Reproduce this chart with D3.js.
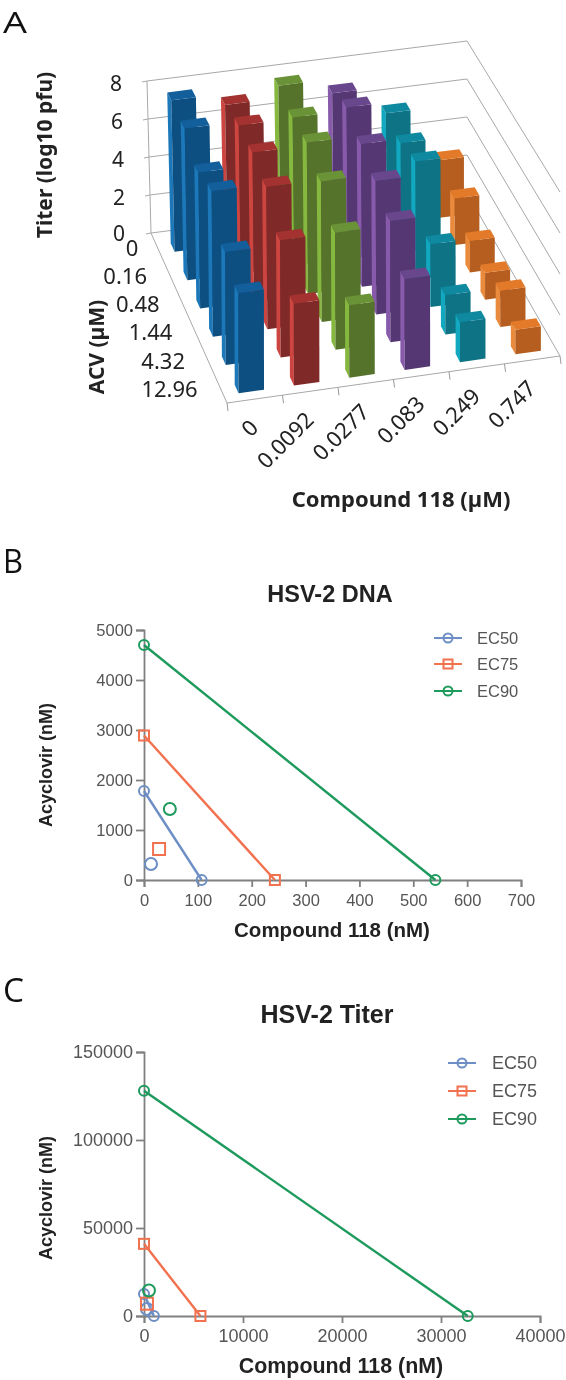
<!DOCTYPE html>
<html>
<head>
<meta charset="utf-8">
<script src="https://cdn.jsdelivr.net/npm/d3@7"></script>
<style>
  html, body { margin: 0; padding: 0; background: #fff; }
  svg { display: block; filter: blur(0.6px); }
</style>
</head>
<body>
<div id="chart"></div>
<script>
var svgWidth = 566;
var svgHeight = 1380;

// panel A
var compoundDoses = ["0", "0.0092", "0.0277", "0.083", "0.249", "0.747"];
var acvDoses = ["0", "0.16", "0.48", "1.44", "4.32", "12.96"];
var titerTicks = [0, 2, 4, 6, 8];
var titerBlue = [7.9, 7.8, 6.9, 7.3, 5.6, 4.9];
var titerRed = [7.3, 7.6, 7.55, 7.15, 5.8, 4.0];
var titerGreen = [7.95, 7.65, 7.7, 7.05, 5.8, 3.55];
var titerPurple = [7.2, 7.8, 7.25, 6.7, 6.0, 4.45];
var titerTeal = [5.8, 5.6, 6.0, 3.15, 1.95, 1.95];
var titerOrange = [3.0, 2.4, 1.6, 1.35, 1.8, 1.2];
var titerSeries = [titerBlue, titerRed, titerGreen, titerPurple, titerTeal, titerOrange];
var barColors = [
  { front: "#0e4f82", top: "#125f9c", left: "#1c78b8" },
  { front: "#7f2a29", top: "#a33230", left: "#cc4540" },
  { front: "#55732b", top: "#6a9236", left: "#86b840" },
  { front: "#553873", top: "#69478c", left: "#875aab" },
  { front: "#0d7385", top: "#0f899f", left: "#12a8c0" },
  { front: "#b55e20", top: "#e37a29", left: "#ea8a3c" }
];

// panel B
var dnaEC50Line = [[0, 1780], [107, 0]];
var dnaEC75Line = [[0, 2890], [243, 0]];
var dnaEC90Line = [[0, 4700], [541, 0]];
var dnaEC50Point = [13, 320];
var dnaEC75Point = [28, 620];
var dnaEC90Point = [48, 1420];
var dnaXTicks = [0, 100, 200, 300, 400, 500, 600, 700];
var dnaYTicks = [0, 1000, 2000, 3000, 4000, 5000];

// panel C
var titerEC50Line = [[0, 12500], [1000, 0]];
var titerEC75Line = [[0, 41000], [5700, 0]];
var titerEC90Line = [[0, 128000], [32700, 0]];
var titerEC50Point = [300, 4000];
var titerEC75Point = [300, 7000];
var titerEC90Point = [500, 14500];
var titerXTicks = [0, 10000, 20000, 30000, 40000];
var titerYTicks = [0, 50000, 100000, 150000];

var levels = ["EC50", "EC75", "EC90"];
var levelColors = ["#6d8fc6", "#f2714f", "#1d9a5c"];
var levelShapes = ["circle", "square", "circle"];

var svg = d3.select("#chart")
  .append("svg")
  .attr("width", svgWidth)
  .attr("height", svgHeight);

function letter(txt, x, y, size, len) {
  svg.append("text")
    .attr("x", x).attr("y", y)
    .attr("font-family", "'Open Sans'")
    .attr("font-size", size)
    .attr("fill", "#111")
    .attr("textLength", len)
    .attr("lengthAdjust", "spacingAndGlyphs")
    .text(txt);
}
letter("A", 3, 32.5, 30, 24);
letter("B", 3, 573, 33, 20);
letter("C", 3, 1002, 33, 21);

// ---- panel A: hand made 3D bars ----
var uScale = d3.scaleLinear().domain([0, 6]).range([0, 1]);
var vScale = d3.scaleLinear().domain([0, 6]).range([0, 1]);

// floor corners as seen in the picture
var backLeft = [151, 233], backRight = [467, 193];
var frontLeft = [227, 403], frontRight = [560, 356];

function project(u, v, z) {
  var bx = backLeft[0] + (backRight[0] - backLeft[0]) * u;
  var by = backLeft[1] + (backRight[1] - backLeft[1]) * u;
  var fx = frontLeft[0] + (frontRight[0] - frontLeft[0]) * u;
  var fy = frontLeft[1] + (frontRight[1] - frontLeft[1]) * u;
  var k = 19 + 1.5 * v;
  return [bx + (fx - bx) * v - z * 0.5 * (1 - u) * (1 - v), by + (fy - by) * v - z * k];
}

var pts = function(list) { return list.map(function(p) { return p.join(","); }).join(" "); };
var a = svg.append("g");

function wallLine(list) {
  a.append("polyline")
    .attr("points", pts(list))
    .attr("fill", "none")
    .attr("stroke", "#a8a8a8")
    .attr("stroke-width", 1);
}

titerTicks.forEach(function(z) {
  wallLine([project(0, 0, z), project(1, 0, z), project(1, 1, z)]);
  var p = project(0, 0, z);
  a.append("line")
    .attr("x1", p[0] - 5).attr("y1", p[1] + 1)
    .attr("x2", p[0]).attr("y2", p[1])
    .attr("stroke", "#a8a8a8");
  a.append("text")
    .attr("x", p[0] - 25 - (z === 0 ? 1 : 0)).attr("y", p[1] + 10 - (z === 0 ? 2 : 0))
    .attr("text-anchor", "end")
    .attr("font-family", "'Noto Sans'")
    .attr("font-size", 21)
    .attr("fill", "#222")
    .text(z);
});
wallLine([project(0, 0, 8), project(0, 0, 0), project(0, 1, 0), project(1, 1, 0)]);

d3.range(7).forEach(function(i) {
  var p = project(uScale(i), 1, 0);
  a.append("line")
    .attr("x1", p[0]).attr("y1", p[1])
    .attr("x2", p[0] + 1).attr("y2", p[1] + 8)
    .attr("stroke", "#999");
});

// painter's order: back row first, right column first
var barFrac = 0.46;
var barDepth = 0.05;
d3.range(6).forEach(function(row) {
  d3.range(5, -1, -1).forEach(function(col) {
    var value = titerSeries[col][row];
    var c = barColors[col];
    var u0 = uScale(col + 0.5 - barFrac / 2), u1 = uScale(col + 0.5 + barFrac / 2);
    var v1 = vScale(row + 0.5 + barFrac / 2), v0 = v1 - barDepth;
    var g = a.append("g");
    g.append("polygon")
      .attr("points", pts([project(u0, v0, 0), project(u0, v1, 0), project(u0, v1, value), project(u0, v0, value)]))
      .attr("fill", c.left);
    g.append("polygon")
      .attr("points", pts([project(u0, v1, 0), project(u1, v1, 0), project(u1, v1, value), project(u0, v1, value)]))
      .attr("fill", c.front);
    g.append("polygon")
      .attr("points", pts([project(u0, v0, value), project(u1, v0, value), project(u1, v1, value), project(u0, v1, value)]))
      .attr("fill", c.top);
  });
});

acvDoses.forEach(function(d, i) {
  var p = project(0, vScale(i + 0.5), 0);
  a.append("text")
    .attr("x", p[0] - 23 + (i === 0 ? 4 : 0)).attr("y", p[1] + 8 + (i === 0 ? 1 : 0))
    .attr("text-anchor", "end")
    .attr("font-family", "'Noto Sans'")
    .attr("font-size", 22)
    .attr("fill", "#222")
    .text(d);
});

compoundDoses.forEach(function(d, i) {
  var p = project(uScale(i + 0.5), 1, 0);
  a.append("text")
    .attr("transform", "translate(" + (p[0] + 5) + "," + (p[1] + 30) + ") rotate(-45)")
    .attr("text-anchor", "end")
    .attr("font-family", "'Noto Sans'")
    .attr("font-size", 22)
    .attr("fill", "#222")
    .text(d);
});

function boldLabel(txt, x, y, rot, size) {
  a.append("text")
    .attr("transform", "translate(" + x + "," + y + ") rotate(" + rot + ")")
    .attr("text-anchor", "middle")
    .attr("font-family", "'Noto Sans'")
    .attr("font-weight", "bold")
    .attr("font-size", size)
    .attr("fill", "#222")
    .text(txt);
}
boldLabel("Titer (log10 pfu)", 52, 155, -90, 21);
boldLabel("ACV (µM)", 104, 347, -90, 21);
boldLabel("Compound 118 (µM)", 401, 507, 0, 22);

// ---- panels B and C ----
function isobologram(opts) {
  var x = d3.scaleLinear().domain(opts.xDomain).range(opts.xRange);
  var y = d3.scaleLinear().domain(opts.yDomain).range(opts.yRange);
  var g = svg.append("g");

  var bottomAxis = d3.axisBottom(x).tickValues(opts.xTicks).tickFormat(d3.format("d")).tickSize(7).tickPadding(opts.xPad);
  var leftAxis = d3.axisLeft(y).tickValues(opts.yTicks).tickFormat(d3.format("d")).tickSize(8).tickPadding(3);

  [["translate(0," + opts.yRange[0] + ")", bottomAxis], ["translate(" + opts.xRange[0] + ",0)", leftAxis]].forEach(function(d) {
    var ax = g.append("g").attr("transform", d[0]).call(d[1]);
    ax.selectAll("path, line").attr("stroke", "#808080").attr("stroke-width", 1.8);
    ax.selectAll("text")
      .attr("font-family", "'Liberation Sans'")
      .attr("font-size", opts.tickSize)
      .attr("fill", "#555");
  });

  function marker(parent, shape, color, cx, cy, size) {
    if (shape === "circle") {
      parent.append("circle")
        .attr("cx", cx).attr("cy", cy).attr("r", size)
        .attr("fill", "none").attr("stroke", color).attr("stroke-width", 2);
    } else {
      parent.append("rect")
        .attr("x", cx - size).attr("y", cy - size)
        .attr("width", size * 2).attr("height", size * 2)
        .attr("fill", "none").attr("stroke", color).attr("stroke-width", 2);
    }
  }

  var line = d3.line().x(function(d) { return x(d[0]); }).y(function(d) { return y(d[1]); });

  levels.forEach(function(name, i) {
    var color = levelColors[i], shape = levelShapes[i];
    g.append("path")
      .attr("d", line(opts.lines[i]))
      .attr("fill", "none")
      .attr("stroke", color)
      .attr("stroke-width", 2.4);
    opts.lines[i].forEach(function(p) {
      marker(g, shape, color, x(p[0]), y(p[1]), 5);
    });
    marker(g, shape, color, x(opts.points[i][0]), y(opts.points[i][1]), 6);

    var ly = opts.legendY[i];
    g.append("line")
      .attr("x1", opts.legendX).attr("x2", opts.legendX + 28)
      .attr("y1", ly).attr("y2", ly)
      .attr("stroke", color).attr("stroke-width", 2);
    marker(g, shape, color, opts.legendX + 14, ly, 4.5);
    g.append("text")
      .attr("x", opts.legendText).attr("y", ly + 6)
      .attr("font-family", "'Liberation Sans'")
      .attr("font-size", opts.tickSize)
      .attr("fill", "#555")
      .text(name);
  });

  function label(txt, px, py, rot, size) {
    g.append("text")
      .attr("transform", "translate(" + px + "," + py + ") rotate(" + rot + ")")
      .attr("text-anchor", "middle")
      .attr("font-family", "'Liberation Sans'")
      .attr("font-weight", "bold")
      .attr("font-size", size)
      .attr("fill", "#222")
      .text(txt);
  }
  label(opts.title, opts.titlePos[0], opts.titlePos[1], 0, opts.titleSize);
  label("Compound 118 (nM)", opts.xLabelPos[0], opts.xLabelPos[1], 0, opts.xLabelSize);
  label("Acyclovir (nM)", opts.yLabelPos[0], opts.yLabelPos[1], -90, 18);
}

isobologram({
  title: "HSV-2 DNA",
  xDomain: [0, 700], xRange: [144, 521],
  yDomain: [0, 5000], yRange: [880, 630],
  xTicks: dnaXTicks, yTicks: dnaYTicks,
  tickSize: 16.5, xPad: 7, titleSize: 23.5, xLabelSize: 20.5,
  lines: [dnaEC50Line, dnaEC75Line, dnaEC90Line],
  points: [dnaEC50Point, dnaEC75Point, dnaEC90Point],
  legendX: 434, legendText: 477, legendY: [638, 664, 691],
  titlePos: [330, 602], xLabelPos: [332, 937], yLabelPos: [52, 765]
});

isobologram({
  title: "HSV-2 Titer",
  xDomain: [0, 40000], xRange: [144, 540],
  yDomain: [0, 150000], yRange: [1316, 1052],
  xTicks: titerXTicks, yTicks: titerYTicks,
  tickSize: 18, xPad: 6, titleSize: 25, xLabelSize: 21.4,
  lines: [titerEC50Line, titerEC75Line, titerEC90Line],
  points: [titerEC50Point, titerEC75Point, titerEC90Point],
  legendX: 448, legendText: 492, legendY: [1063, 1091, 1119],
  titlePos: [327, 1023], xLabelPos: [341, 1373], yLabelPos: [52, 1198]
});
</script>
</body>
</html>
